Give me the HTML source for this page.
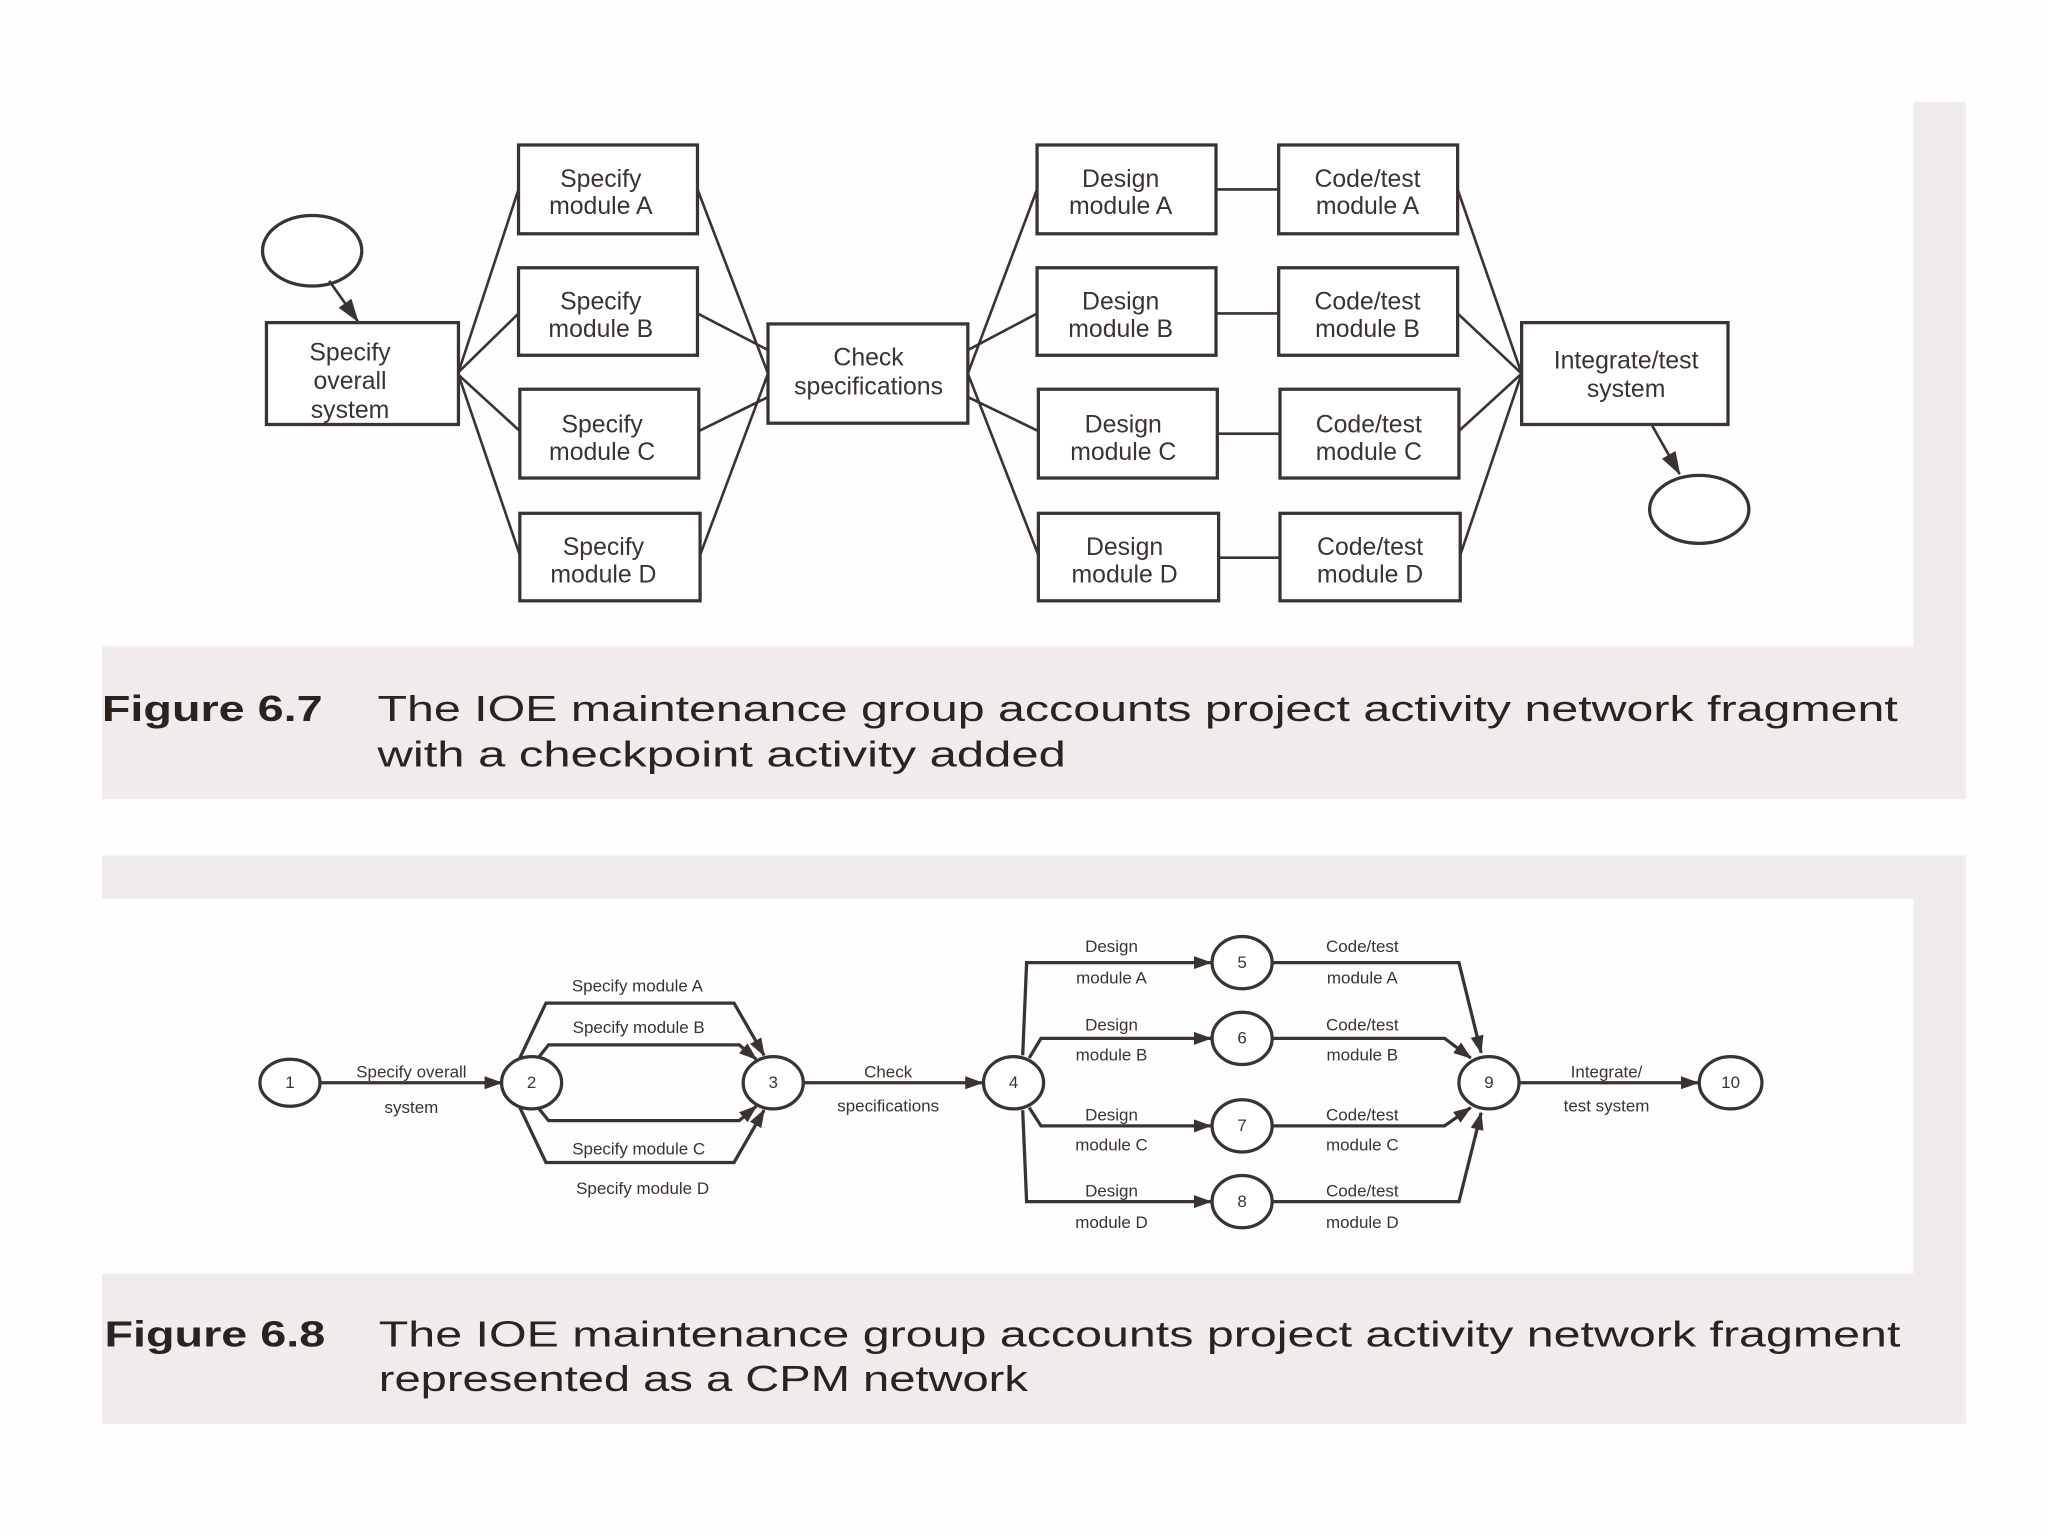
<!DOCTYPE html>
<html><head><meta charset="utf-8"><style>
html,body{margin:0;padding:0;background:#fff;width:2048px;height:1536px;overflow:hidden}
svg{display:block}
text{font-family:"Liberation Sans",sans-serif;fill:#3a3330}
</style></head><body>
<svg width="2048" height="1536" viewBox="0 0 1568 1176" preserveAspectRatio="none" xmlns="http://www.w3.org/2000/svg">
<defs>
<marker id="a" markerWidth="14" markerHeight="10" refX="13" refY="5" orient="auto" markerUnits="userSpaceOnUse" viewBox="0 0 14 10"><path d="M0,0 L14,5 L0,10 z" fill="#3a3330"/></marker>
<marker id="b" markerWidth="18" markerHeight="12" refX="17" refY="6" orient="auto" markerUnits="userSpaceOnUse" viewBox="0 0 18 12"><path d="M0,0 L18,6 L0,12 z" fill="#3a3330"/></marker>
</defs>
<rect x="0" y="0" width="1568" height="1176" fill="#fefefe"/>
<rect x="78" y="78" width="1427" height="534" fill="#efeceb"/>
<rect x="78" y="78" width="1387" height="417" fill="#fefefe"/>
<rect x="78" y="655" width="1427" height="435" fill="#efeceb"/>
<rect x="78" y="688" width="1387" height="287" fill="#fefefe"/>

<g stroke="#3a3330" stroke-width="2.5" fill="#fff">
<ellipse cx="239" cy="192" rx="38" ry="27"/>
<ellipse cx="1301" cy="390" rx="38" ry="26"/>
<g fill="none" stroke-width="2">
<line x1="351" y1="285" x2="397" y2="145"/><line x1="351" y1="285" x2="397" y2="240"/>
<line x1="351" y1="287" x2="398" y2="330"/><line x1="351" y1="287" x2="398" y2="425"/>
<line x1="534" y1="145" x2="588" y2="286"/><line x1="534" y1="240" x2="588" y2="268"/>
<line x1="535" y1="330" x2="588" y2="304"/><line x1="536" y1="425" x2="588" y2="286"/>
<line x1="741" y1="286" x2="794" y2="145"/><line x1="741" y1="268" x2="794" y2="240"/>
<line x1="741" y1="304" x2="795" y2="330"/><line x1="741" y1="286" x2="795" y2="425"/>
<line x1="931" y1="145" x2="979" y2="145"/><line x1="931" y1="240" x2="979" y2="240"/>
<line x1="932" y1="332" x2="980" y2="332"/><line x1="933" y1="427" x2="980" y2="427"/>
<line x1="1116" y1="145" x2="1165" y2="286"/><line x1="1116" y1="240" x2="1165" y2="286"/>
<line x1="1117" y1="330" x2="1165" y2="286"/><line x1="1118" y1="425" x2="1165" y2="286"/>
<line x1="252" y1="215" x2="274" y2="246" marker-end="url(#b)"/>
<line x1="1265" y1="326" x2="1286" y2="363" marker-end="url(#b)"/>
</g>
<rect x="204" y="247" width="147" height="78"/>
<rect x="397" y="111" width="137" height="68"/><rect x="397" y="205" width="137" height="67"/>
<rect x="398" y="298" width="137" height="68"/><rect x="398" y="393" width="138" height="67"/>
<rect x="588" y="248" width="153" height="76"/>
<rect x="794" y="111" width="137" height="68"/><rect x="794" y="205" width="137" height="67"/>
<rect x="795" y="298" width="137" height="68"/><rect x="795" y="393" width="138" height="67"/>
<rect x="979" y="111" width="137" height="68"/><rect x="979" y="205" width="137" height="67"/>
<rect x="980" y="298" width="137" height="68"/><rect x="980" y="393" width="138" height="67"/>
<rect x="1165" y="247" width="158" height="78"/>
</g>
<g font-size="19" text-anchor="middle">
<text x="268" y="276">Specify</text><text x="268" y="298">overall</text><text x="268" y="320">system</text>
<text x="460" y="143">Specify</text><text x="460" y="164">module A</text>
<text x="460" y="237">Specify</text><text x="460" y="258">module B</text>
<text x="461" y="331">Specify</text><text x="461" y="352">module C</text>
<text x="462" y="425">Specify</text><text x="462" y="446">module D</text>
<text x="665" y="280">Check</text><text x="665" y="302">specifications</text>
<text x="858" y="143">Design</text><text x="858" y="164">module A</text>
<text x="858" y="237">Design</text><text x="858" y="258">module B</text>
<text x="860" y="331">Design</text><text x="860" y="352">module C</text>
<text x="861" y="425">Design</text><text x="861" y="446">module D</text>
<text x="1047" y="143">Code/test</text><text x="1047" y="164">module A</text>
<text x="1047" y="237">Code/test</text><text x="1047" y="258">module B</text>
<text x="1048" y="331">Code/test</text><text x="1048" y="352">module C</text>
<text x="1049" y="425">Code/test</text><text x="1049" y="446">module D</text>
<text x="1245" y="282">Integrate/test</text><text x="1245" y="304">system</text>
</g>
<g font-size="28">
<text x="78" y="552" font-weight="bold" textLength="169" lengthAdjust="spacingAndGlyphs" style="fill:#2a2320">Figure 6.7</text>
<text x="289" y="552" textLength="1164" lengthAdjust="spacingAndGlyphs" style="fill:#2a2320">The IOE maintenance group accounts project activity network fragment</text>
<text x="289" y="587" textLength="527" lengthAdjust="spacingAndGlyphs" style="fill:#2a2320">with a checkpoint activity added</text>
<text x="80" y="1031" font-weight="bold" textLength="169" lengthAdjust="spacingAndGlyphs" style="fill:#2a2320">Figure 6.8</text>
<text x="290" y="1031" textLength="1165" lengthAdjust="spacingAndGlyphs" style="fill:#2a2320">The IOE maintenance group accounts project activity network fragment</text>
<text x="290" y="1065" textLength="497" lengthAdjust="spacingAndGlyphs" style="fill:#2a2320">represented as a CPM network</text>
</g>

<g stroke="#3a3330" stroke-width="2.5" fill="none">
<line x1="245" y1="829" x2="384" y2="829" marker-end="url(#a)"/>
<path d="M398,810 L418,768 L562,768 L585,808" marker-end="url(#a)"/>
<path d="M412,810 L420,800 L566,800 L579,811" marker-end="url(#a)"/>
<path d="M412,848 L420,858 L566,858 L579,847" marker-end="url(#a)"/>
<path d="M398,848 L418,890 L562,890 L585,850" marker-end="url(#a)"/>
<line x1="615" y1="829" x2="752" y2="829" marker-end="url(#a)"/>
<path d="M783,808 L786,737 L927,737" marker-end="url(#a)"/>
<path d="M788,810 L797,795 L927,795" marker-end="url(#a)"/>
<path d="M788,848 L797,862 L927,862" marker-end="url(#a)"/>
<path d="M783,850 L786,920 L927,920" marker-end="url(#a)"/>
<path d="M974,737 L1117,737 L1134,806" marker-end="url(#a)"/>
<path d="M974,795 L1106,795 L1126,810" marker-end="url(#a)"/>
<path d="M974,862 L1106,862 L1126,848" marker-end="url(#a)"/>
<path d="M974,920 L1117,920 L1134,852" marker-end="url(#a)"/>
<line x1="1163" y1="829" x2="1300" y2="829" marker-end="url(#a)"/>
</g>
<g stroke="#3a3330" stroke-width="2.5" fill="#fff">
<ellipse cx="222" cy="829" rx="23" ry="18"/><ellipse cx="407" cy="829" rx="23" ry="20"/>
<ellipse cx="592" cy="829" rx="23" ry="20"/><ellipse cx="776" cy="829" rx="23" ry="20"/>
<ellipse cx="951" cy="737" rx="23" ry="20"/><ellipse cx="951" cy="795" rx="23" ry="20"/>
<ellipse cx="951" cy="862" rx="23" ry="20"/><ellipse cx="951" cy="920" rx="23" ry="20"/>
<ellipse cx="1140" cy="829" rx="23" ry="20"/><ellipse cx="1325" cy="829" rx="24" ry="20"/>
</g>
<g font-size="13" text-anchor="middle">
<text x="222" y="833">1</text><text x="407" y="833">2</text><text x="592" y="833">3</text><text x="776" y="833">4</text>
<text x="951" y="741">5</text><text x="951" y="799">6</text><text x="951" y="866">7</text><text x="951" y="924">8</text>
<text x="1140" y="833">9</text><text x="1325" y="833">10</text>
<text x="315" y="825">Specify overall</text><text x="315" y="852">system</text>
<text x="488" y="759">Specify module A</text><text x="489" y="791">Specify module B</text>
<text x="489" y="884">Specify module C</text><text x="492" y="914">Specify module D</text>
<text x="680" y="825">Check</text><text x="680" y="851">specifications</text>
<text x="851" y="729">Design</text><text x="851" y="753">module A</text>
<text x="851" y="789">Design</text><text x="851" y="812">module B</text>
<text x="851" y="858">Design</text><text x="851" y="881">module C</text>
<text x="851" y="916">Design</text><text x="851" y="940">module D</text>
<text x="1043" y="729">Code/test</text><text x="1043" y="753">module A</text>
<text x="1043" y="789">Code/test</text><text x="1043" y="812">module B</text>
<text x="1043" y="858">Code/test</text><text x="1043" y="881">module C</text>
<text x="1043" y="916">Code/test</text><text x="1043" y="940">module D</text>
<text x="1230" y="825">Integrate/</text><text x="1230" y="851">test system</text>
</g>
</svg>
</body></html>
